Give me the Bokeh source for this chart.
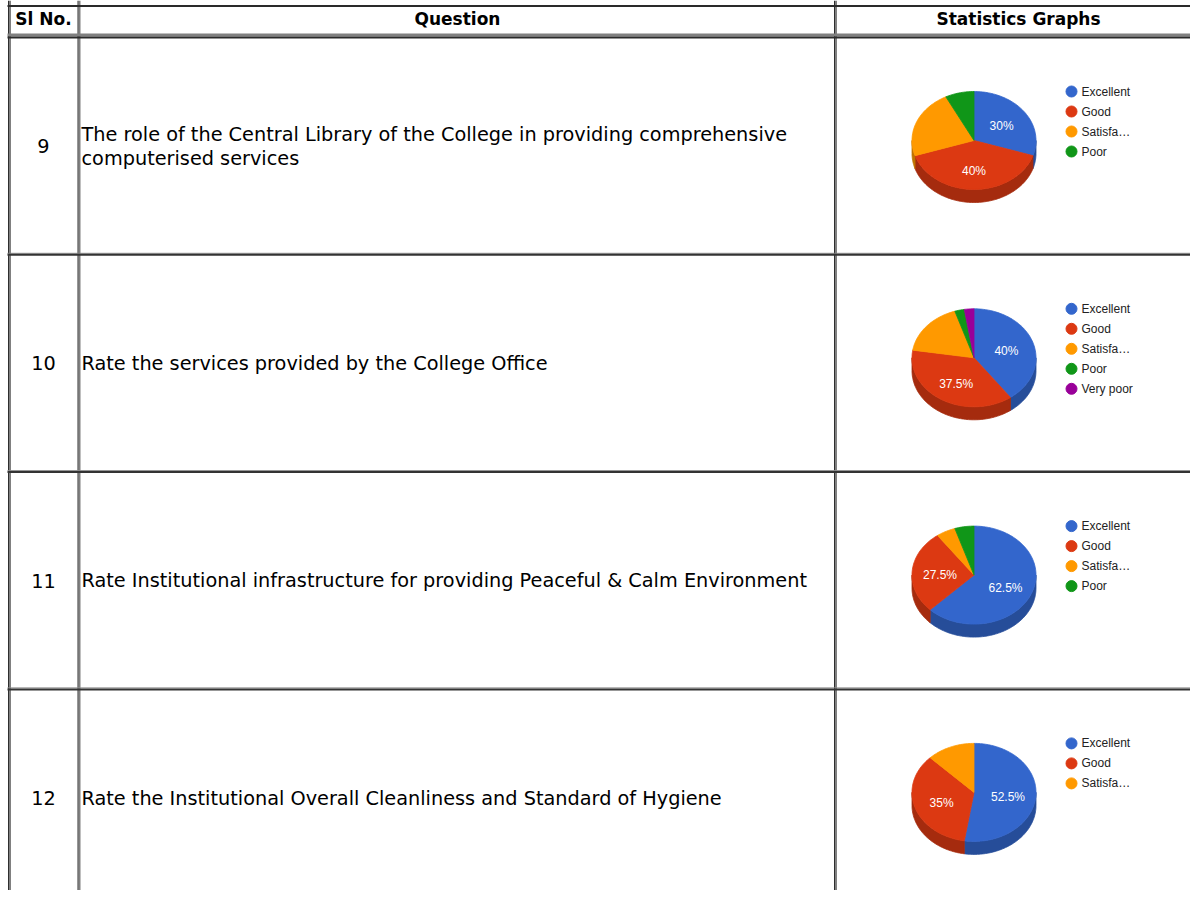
import numpy as np
from bokeh.plotting import figure
from bokeh.models import Range1d
from bokeh.core.properties import value
from bokeh.embed import file_html
from bokeh.resources import INLINE

# ---------------- data ----------------
headers = ["Sl No.", "Question", "Statistics Graphs"]
sl_no = ["9", "10", "11", "12"]
questions = [
    ["The role of the Central Library of the College in providing comprehensive",
     "computerised services"],
    ["Rate the services provided by the College Office"],
    ["Rate Institutional infrastructure for providing Peaceful & Calm Environment"],
    ["Rate the Institutional Overall Cleanliness and Standard of Hygiene"],
]
categories = ["Excellent", "Good", "Satisfactory", "Poor", "Very poor"]
legend_labels = ["Excellent", "Good", "Satisfa…", "Poor", "Very poor"]
q9_pct = [30, 40, 22.5, 7.5]
q10_pct = [40, 37.5, 17.5, 2.5, 2.5]
q11_pct = [62.5, 27.5, 5, 5]
q12_pct = [52.5, 35, 12.5]
all_pct = [q9_pct, q10_pct, q11_pct, q12_pct]

# ---------------- style / layout ----------------
top_colors = ["#3366cc", "#dc3912", "#ff9900", "#109618", "#990099"]
side_colors = ["#264d99", "#a52b0e", "#bf7300", "#0c7112", "#730073"]

W, H = 1190, 890
ROW_TOP = 37.0
ROW_H = 217.3
PIE_CX = 973.5
RX, RY, DEPTH = 62.0, 49.0, 13.0
LABEL_MIN = 25.0
TXT_FONT = "DejaVu Sans"
TXT_SIZE = "19.3px"
HDR_SIZE = "17px"

p = figure(width=W, height=H, x_range=Range1d(0, W), y_range=Range1d(H, 0),
           output_backend="svg", toolbar_location=None, min_border=0,
           x_axis_location=None, y_axis_location=None)
p.outline_line_color = None
p.grid.visible = False
p.background_fill_color = "white"
p.border_fill_color = "white"

# ---------------- table lines ----------------
v_lines = [8.5, 78.0, 834.5]
for x in v_lines:
    p.segment(x0=[x + 1], y0=[0], x1=[x + 1], y1=[H], line_color="#808080", line_width=2)
    p.segment(x0=[x - 0.5], y0=[0], x1=[x - 0.5], y1=[H], line_color="#2e2e2e", line_width=1)
# header top
p.segment(x0=[7], y0=[5.5], x1=[W], y1=[5.5], line_color="#2a2a2a", line_width=2)
# header bottom (gray band + dark line)
p.segment(x0=[7], y0=[34.5], x1=[W], y1=[34.5], line_color="#808080", line_width=3)
p.segment(x0=[7], y0=[37], x1=[W], y1=[37], line_color="#2a2a2a", line_width=2)
# row borders
for i in range(1, len(sl_no)):
    yb = ROW_TOP + ROW_H * i
    p.segment(x0=[7], y0=[yb - 1.5], x1=[W], y1=[yb - 1.5], line_color="#8a8a8a", line_width=1)
    p.segment(x0=[7], y0=[yb], x1=[W], y1=[yb], line_color="#333333", line_width=2)

# ---------------- header texts ----------------
p.text(x=[43, 457, 1018], y=[18, 18, 18], text=headers,
       text_font=value(TXT_FONT), text_font_size=value(HDR_SIZE), text_font_style="bold",
       text_align="center", text_baseline="middle", text_color="#000000")

# ---------------- row texts ----------------
for i in range(len(sl_no)):
    rc = ROW_TOP + ROW_H * i + ROW_H / 2
    p.text(x=[43], y=[rc], text=[sl_no[i]], text_font=value(TXT_FONT),
           text_font_size=value(TXT_SIZE), text_align="center", text_baseline="middle",
           text_color="#000000")
    lines = questions[i]
    n = len(lines)
    ys = [rc + (k - (n - 1) / 2) * 24 for k in range(n)]
    p.text(x=[81] * n, y=ys, text=lines, text_font=value(TXT_FONT),
           text_font_size=value(TXT_SIZE), text_align="left", text_baseline="middle",
           text_color="#000000")

# ---------------- 3D pies ----------------
def arc(cx, cy, a0, a1):
    n = max(3, int(np.ceil((a1 - a0) / (2 * np.pi) * 240)))
    th = np.linspace(a0, a1, n)
    return cx + RX * np.sin(th), cy - RY * np.cos(th)

for i, pcts in enumerate(all_pct):
    rt = ROW_TOP + ROW_H * i
    cx, cy = PIE_CX, rt + 103
    vals = np.array(pcts, dtype=float)
    fr = vals / vals.sum()
    ends = np.cumsum(fr) * 2 * np.pi
    starts = ends - fr * 2 * np.pi

    side_xs, side_ys, side_c = [], [], []
    top_xs, top_ys, top_c = [], [], []
    for k in range(len(vals)):
        s0, s1 = max(starts[k], np.pi / 2), min(ends[k], 1.5 * np.pi)
        if s1 > s0:
            ax, ay = arc(cx, cy, s0, s1)
            side_xs.append(list(ax) + list(ax[::-1]))
            side_ys.append(list(ay) + list((ay + DEPTH)[::-1]))
            side_c.append(side_colors[k])
        ax, ay = arc(cx, cy, starts[k], ends[k])
        top_xs.append([cx] + list(ax))
        top_ys.append([cy] + list(ay))
        top_c.append(top_colors[k])
    p.patches(xs=side_xs, ys=side_ys, fill_color=side_c, line_color=side_c, line_width=0.8)
    p.patches(xs=top_xs, ys=top_ys, fill_color=top_c, line_color=top_c, line_width=0.8)

    # percentage labels
    lx, ly, lt = [], [], []
    for k in range(len(vals)):
        if vals[k] >= LABEL_MIN:
            mid = (starts[k] + ends[k]) / 2
            lx.append(cx + 0.55 * RX * np.sin(mid))
            ly.append(cy + 2 - 0.58 * RY * np.cos(mid))
            lt.append(f"{vals[k]:g}%")
    p.text(x=lx, y=ly, text=lt, text_font=value("Liberation Sans"),
           text_font_size=value("12px"), text_color="white",
           text_align="center", text_baseline="middle")

    # legend
    nk = len(vals)
    ly = [rt + 54 + 20 * k for k in range(nk)]
    p.scatter(x=[1071] * nk, y=ly, size=11, marker="circle",
              fill_color=top_colors[:nk], line_color=top_colors[:nk])
    p.text(x=[1081] * nk, y=ly, text=legend_labels[:nk], text_font=value("Liberation Sans"),
           text_font_size=value("12px"), text_color="#222222",
           text_align="left", text_baseline="middle")

open("out.html", "w").write(file_html(p, INLINE))
